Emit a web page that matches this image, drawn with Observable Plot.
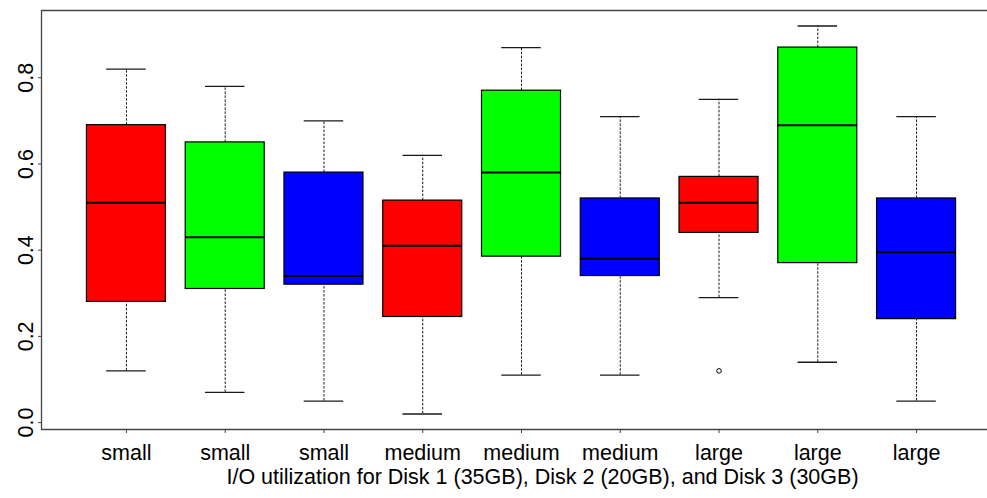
<!DOCTYPE html>
<html>
<head>
<meta charset="utf-8">
<script src="https://cdn.jsdelivr.net/npm/d3@7"></script>
<script src="https://cdn.jsdelivr.net/npm/@observablehq/plot@0.6"></script>
<style>
  html, body { margin: 0; padding: 0; background: #fff; overflow: hidden; }
  #chart { width: 987px; height: 498px; overflow: hidden; }
  #chart svg { display: block; overflow: hidden !important; max-width: none !important; }
</style>
</head>
<body>
<div id="chart"></div>
<script>
// Box-plot summaries of I/O utilization, one box per disk and workload size
const sizes = ["small", "small", "small", "medium", "medium", "medium", "large", "large", "large"];
const disks = ["Disk 1", "Disk 2", "Disk 3", "Disk 1", "Disk 2", "Disk 3", "Disk 1", "Disk 2", "Disk 3"];
const diskNames = ["Disk 1", "Disk 2", "Disk 3"];
const diskColors = ["#ff0000", "#00ff00", "#0000ff"];

const whiskerLow  = [0.12, 0.07, 0.05, 0.02, 0.11, 0.11, 0.29, 0.14, 0.05];
const q1          = [0.28, 0.31, 0.32, 0.245, 0.385, 0.34, 0.44, 0.37, 0.24];
const median      = [0.51, 0.43, 0.34, 0.41, 0.58, 0.38, 0.51, 0.69, 0.395];
const q3          = [0.69, 0.65, 0.58, 0.515, 0.77, 0.52, 0.57, 0.87, 0.52];
const whiskerHigh = [0.82, 0.78, 0.70, 0.62, 0.87, 0.71, 0.75, 0.92, 0.71];

// Points beyond the whiskers (box position, value)
const outlierBox = [7];
const outlierValue = [0.12];

const yTicks = [0, 0.2, 0.4, 0.6, 0.8];
const xTitle = "I/O utilization for Disk 1 (35GB), Disk 2 (20GB), and Disk 3 (30GB)";

const boxes = sizes.map((size, i) => ({
  pos: i + 1,
  size,
  disk: disks[i],
  low: whiskerLow[i],
  q1: q1[i],
  median: median[i],
  q3: q3[i],
  high: whiskerHigh[i]
}));
const outliers = outlierBox.map((b, i) => ({pos: b, value: outlierValue[i]}));

const xDomain = [0.14, 9.86];
const yDomain = [-0.016, 0.956];
const halfBox = 0.4;   // box width 0.8
const halfCap = 0.2;   // staple width 0.4
const ink = "#1a1a1a";
const axisInk = "#444";

const chart = Plot.plot({
  width: 987,
  height: 498,
  marginLeft: 41,
  marginTop: 10,
  marginBottom: 69,
  marginRight: 0,
  style: {fontFamily: "'Liberation Sans', Arial, sans-serif", fontSize: "21.5px", color: "#000", background: "#fff"},
  // the plotting region runs past the right edge of the page
  x: {domain: xDomain, range: [41, 1001], axis: null},
  y: {domain: yDomain, axis: null},
  color: {domain: diskNames, range: diskColors},
  marks: [
    // whiskers
    Plot.ruleX(boxes, {x: "pos", y1: "q3", y2: "high", stroke: ink, strokeWidth: 1, strokeDasharray: "2.5,1.5"}),
    Plot.ruleX(boxes, {x: "pos", y1: "low", y2: "q1", stroke: ink, strokeWidth: 1, strokeDasharray: "2.5,1.5"}),
    // staples
    Plot.ruleY(boxes, {y: "high", x1: d => d.pos - halfCap, x2: d => d.pos + halfCap, stroke: ink, strokeWidth: 1.3}),
    Plot.ruleY(boxes, {y: "low", x1: d => d.pos - halfCap, x2: d => d.pos + halfCap, stroke: ink, strokeWidth: 1.3}),
    // boxes
    Plot.rect(boxes, {x1: d => d.pos - halfBox, x2: d => d.pos + halfBox, y1: "q1", y2: "q3", fill: "disk", stroke: "#000", strokeWidth: 1.2}),
    // medians
    Plot.ruleY(boxes, {y: "median", x1: d => d.pos - halfBox, x2: d => d.pos + halfBox, stroke: "#000", strokeWidth: 2}),
    // outliers
    Plot.dot(outliers, {x: "pos", y: "value", r: 2.3, stroke: "#000", strokeWidth: 1, fill: "none"}),
    // box around the plotting region: top, bottom and left sides
    Plot.ruleY(yDomain, {x1: xDomain[0], x2: xDomain[1], stroke: axisInk, strokeWidth: 1.3}),
    Plot.ruleX([xDomain[0]], {y1: yDomain[0], y2: yDomain[1], stroke: axisInk, strokeWidth: 1.3}),
    Plot.axisY({ticks: yTicks, tickSize: 3, tickPadding: 6, tickRotate: -90, tickFormat: d3.format(".1f"), label: null, stroke: axisInk}),
    Plot.axisX({ticks: boxes.map(d => d.pos), tickFormat: d => sizes[d - 1], tickSize: 4, tickPadding: 11, label: null, stroke: axisInk}),
    Plot.text([xTitle], {frameAnchor: "bottom", dx: 28, dy: 54, lineAnchor: "bottom", fontSize: 21.5, fill: "#000"})
  ]
});

document.getElementById("chart").appendChild(chart);
</script>
</body>
</html>
